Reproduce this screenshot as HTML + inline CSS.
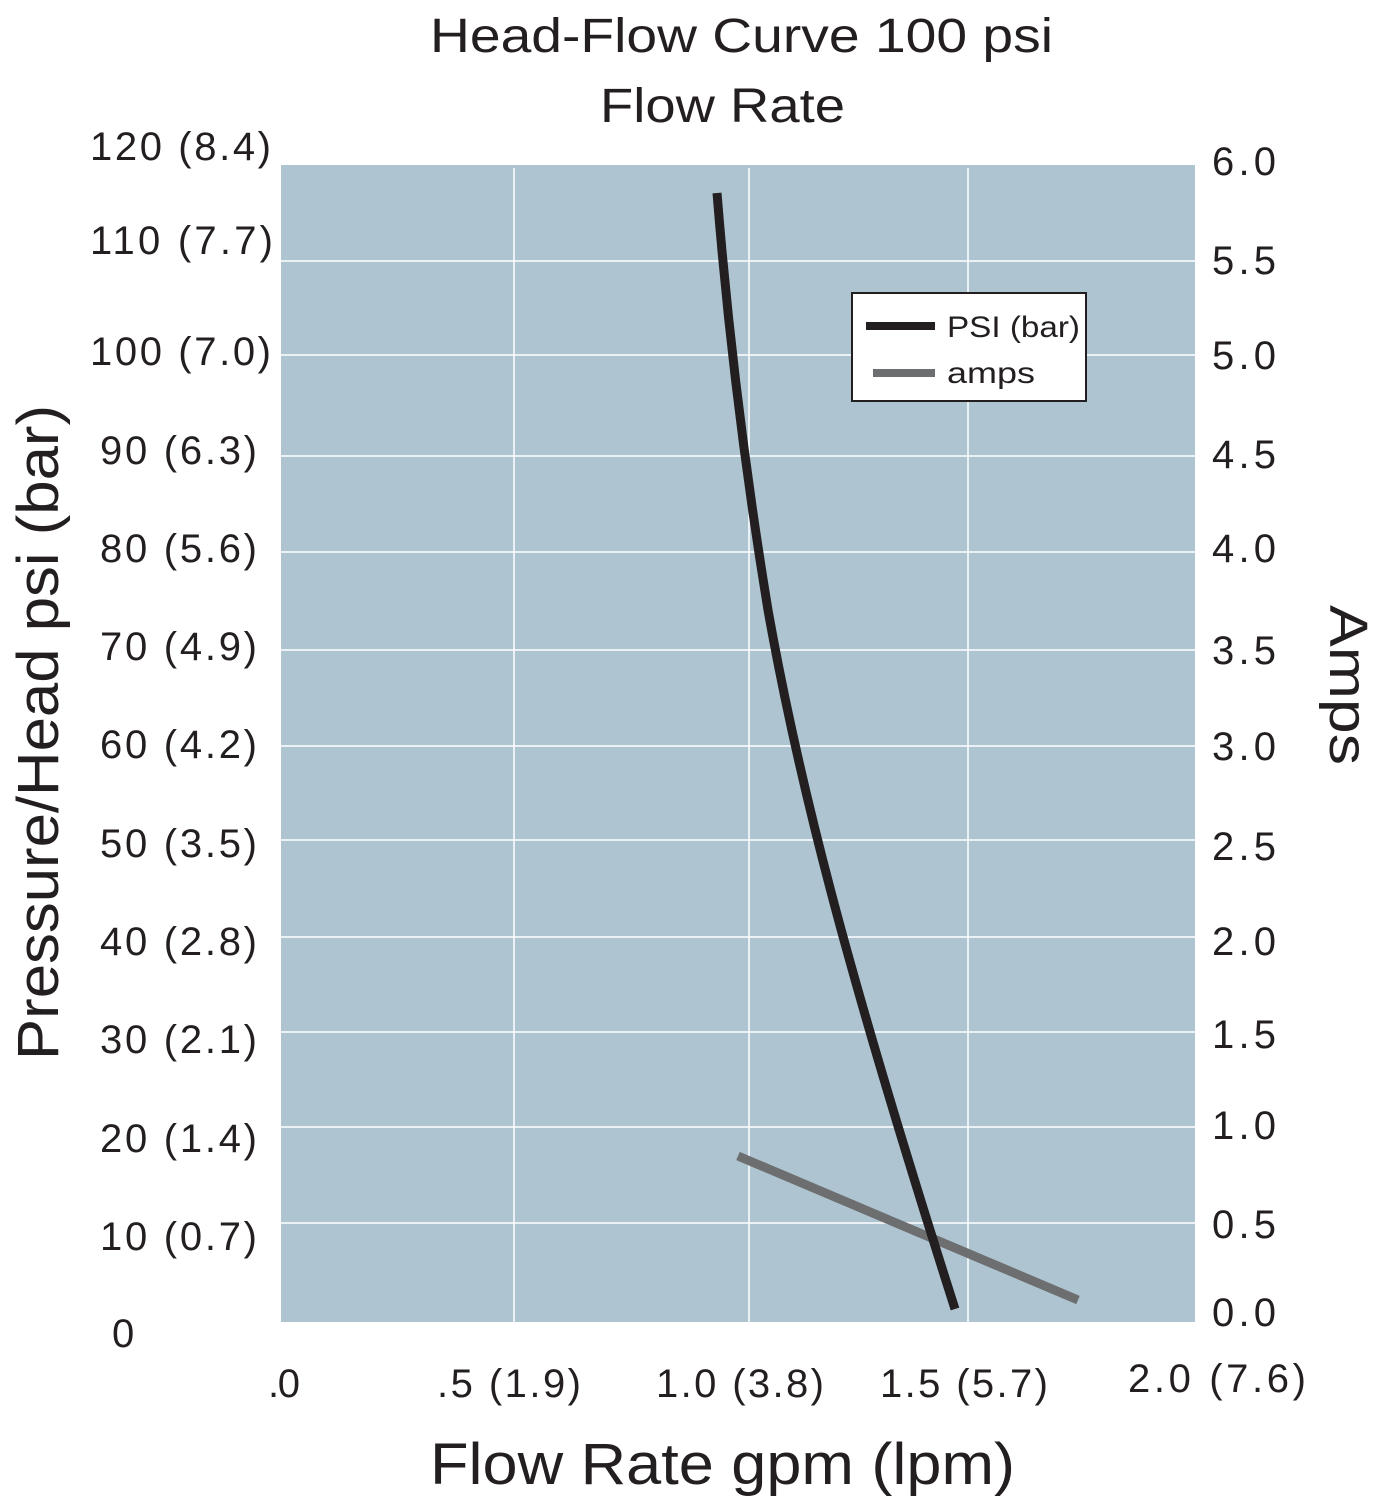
<!DOCTYPE html>
<html><head><style>
body{margin:0;background:#fff;width:1388px;height:1500px;overflow:hidden}
svg text{font-family:"Liberation Sans",sans-serif;fill:#231f20}
</style></head><body>
<svg width="1388" height="1500" viewBox="0 0 1388 1500">
<rect x="281" y="165" width="914" height="1157" fill="#aec5d1"/>
<g stroke="#fff" stroke-width="1.5">
<line x1="514" y1="168" x2="514" y2="1322"/><line x1="749" y1="168" x2="749" y2="1322"/><line x1="968" y1="168" x2="968" y2="1322"/>
<line x1="281" y1="261" x2="1195" y2="261"/><line x1="281" y1="355" x2="1195" y2="355"/><line x1="281" y1="456" x2="1195" y2="456"/><line x1="281" y1="552" x2="1195" y2="552"/><line x1="281" y1="650" x2="1195" y2="650"/><line x1="281" y1="746" x2="1195" y2="746"/><line x1="281" y1="840" x2="1195" y2="840"/><line x1="281" y1="937" x2="1195" y2="937"/><line x1="281" y1="1032" x2="1195" y2="1032"/><line x1="281" y1="1127" x2="1195" y2="1127"/><line x1="281" y1="1223" x2="1195" y2="1223"/>
</g>
<line x1="738" y1="1156" x2="1078" y2="1300" stroke="#6d6e70" stroke-width="9"/>
<path d="M717,193 C728,330 745,470 768,610 C800,790 850,980 955,1309" fill="none" stroke="#231f20" stroke-width="9"/>
<rect x="852" y="293" width="234" height="108" fill="#fff" stroke="#231f20" stroke-width="2"/>
<line x1="866" y1="326" x2="935" y2="326" stroke="#231f20" stroke-width="8"/>
<line x1="873" y1="373" x2="935" y2="373" stroke="#6d6e70" stroke-width="8"/>
<text x="947" y="337" font-size="30" textLength="133" lengthAdjust="spacingAndGlyphs">PSI (bar)</text>
<text x="947" y="383" font-size="30" textLength="88" lengthAdjust="spacingAndGlyphs">amps</text>
<text x="430" y="52" font-size="48" textLength="623" lengthAdjust="spacingAndGlyphs">Head-Flow Curve 100 psi</text>
<text x="600" y="122" font-size="48" textLength="245" lengthAdjust="spacingAndGlyphs">Flow Rate</text>
<g font-size="40" lengthAdjust="spacingAndGlyphs">
<text x="90" y="160" textLength="181">120 (8.4)</text><text x="90" y="254" textLength="183">110 (7.7)</text><text x="90" y="365" textLength="181">100 (7.0)</text><text x="100" y="464" textLength="157">90 (6.3)</text><text x="100" y="562" textLength="157">80 (5.6)</text><text x="100" y="660" textLength="157">70 (4.9)</text><text x="100" y="758" textLength="157">60 (4.2)</text><text x="100" y="857" textLength="157">50 (3.5)</text><text x="100" y="955" textLength="157">40 (2.8)</text><text x="100" y="1053" textLength="157">30 (2.1)</text><text x="100" y="1152" textLength="157">20 (1.4)</text><text x="100" y="1250" textLength="157">10 (0.7)</text><text x="112" y="1347">0</text>
</g>
<g font-size="40" lengthAdjust="spacingAndGlyphs">
<text x="1212" y="175" textLength="64">6.0</text><text x="1212" y="274" textLength="64">5.5</text><text x="1212" y="369" textLength="64">5.0</text><text x="1212" y="468" textLength="64">4.5</text><text x="1212" y="562" textLength="64">4.0</text><text x="1212" y="664" textLength="64">3.5</text><text x="1212" y="760" textLength="64">3.0</text><text x="1212" y="860" textLength="64">2.5</text><text x="1212" y="955" textLength="64">2.0</text><text x="1212" y="1048" textLength="64">1.5</text><text x="1212" y="1139" textLength="64">1.0</text><text x="1212" y="1238" textLength="64">0.5</text><text x="1212" y="1326" textLength="64">0.0</text>
</g>
<g font-size="40" lengthAdjust="spacingAndGlyphs">
<text x="268" y="1397" textLength="32">.0</text><text x="437" y="1397" textLength="144">.5 (1.9)</text><text x="656" y="1397" textLength="168">1.0 (3.8)</text><text x="880" y="1397" textLength="168">1.5 (5.7)</text><text x="1128" y="1392" textLength="178">2.0 (7.6)</text>
</g>
<text x="430" y="1484" font-size="58" textLength="585" lengthAdjust="spacingAndGlyphs">Flow Rate gpm (lpm)</text>
<text transform="translate(58,1060) rotate(-90)" font-size="58" textLength="655" lengthAdjust="spacingAndGlyphs">Pressure/Head psi (bar)</text>
<text transform="translate(1330,605) rotate(90)" font-size="54" textLength="160" lengthAdjust="spacingAndGlyphs">Amps</text>
</svg>
</body></html>
